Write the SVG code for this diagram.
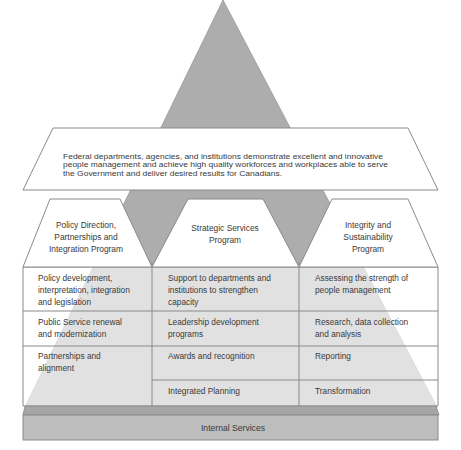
<svg xmlns="http://www.w3.org/2000/svg" width="461" height="450" viewBox="0 0 461 450">
<style>
  .t { font-family: "Liberation Sans", Arial, sans-serif; fill: #3a3a3a; }
  .b { font-size: 7.9px; }
  .h { font-size: 8.4px; text-anchor: middle; }
  .c { font-size: 8.3px; }
  .box { fill: #ffffff; stroke: #8a8a8a; stroke-width: 1; }
  .grid { stroke: #8a8a8a; stroke-width: 1; fill: none; }
</style>
<rect x="0" y="0" width="461" height="450" fill="#ffffff"/>

<g id="pyramid">
  <polygon points="223,0 25,407 437,407" fill="#adadad" stroke="#999" stroke-width="0.8"/>
</g>

<g id="table">
  <rect x="23" y="267" width="415" height="139" fill="#ffffff" fill-opacity="0.63"/>
  <path class="grid" d="M23,267 V406 M438,267 V406 M152,262 V406 M299,262 V406 M23,267 H438 M23,311 H438 M23,346 H438 M152,380 H438 M23,406 H438"/>
</g>

<g id="outcome">
  <polygon class="box" points="53,128 408,128 438,190 23,190"/>
  <text class="t b" x="63" y="158.5" textLength="320" lengthAdjust="spacingAndGlyphs">Federal departments, agencies, and institutions demonstrate excellent and innovative</text>
  <text class="t b" x="63" y="167" textLength="325" lengthAdjust="spacingAndGlyphs">people management and achieve high quality workforces and workplaces able to serve</text>
  <text class="t b" x="63" y="175.5" textLength="219" lengthAdjust="spacingAndGlyphs">the Government and deliver desired results for Canadians.</text>
</g>

<g id="program-policy">
  <polygon class="box" points="50,199 120,199 152,267 23,267"/>
  <text class="t h" x="86" y="228">Policy Direction,</text>
  <text class="t h" x="86" y="240">Partnerships and</text>
  <text class="t h" x="86" y="252">Integration Program</text>
</g>

<g id="program-strategic">
  <polygon class="box" points="188,199 263,199 299,267 152,267"/>
  <text class="t h" x="225" y="231">Strategic Services</text>
  <text class="t h" x="225" y="242.5">Program</text>
</g>

<g id="program-integrity">
  <polygon class="box" points="332,199 408,199 438,267 299,267"/>
  <text class="t h" x="368" y="228">Integrity and</text>
  <text class="t h" x="368" y="240">Sustainability</text>
  <text class="t h" x="368" y="252">Program</text>
</g>

<g id="cells-policy">
  <text class="t c" x="38" y="281">Policy development,</text>
  <text class="t c" x="38" y="293">interpretation, integration</text>
  <text class="t c" x="38" y="305">and legislation</text>
  <text class="t c" x="38" y="324.5">Public Service renewal</text>
  <text class="t c" x="38" y="336.5">and modernization</text>
  <text class="t c" x="38" y="359">Partnerships and</text>
  <text class="t c" x="38" y="371">alignment</text>
</g>

<g id="cells-strategic">
  <text class="t c" x="168" y="281">Support to departments and</text>
  <text class="t c" x="168" y="293">institutions to strengthen</text>
  <text class="t c" x="168" y="305">capacity</text>
  <text class="t c" x="168" y="324.5">Leadership development</text>
  <text class="t c" x="168" y="336.5">programs</text>
  <text class="t c" x="168" y="359">Awards and recognition</text>
  <text class="t c" x="168" y="393.5">Integrated Planning</text>
</g>

<g id="cells-integrity">
  <text class="t c" x="315" y="281">Assessing the strength of</text>
  <text class="t c" x="315" y="293">people management</text>
  <text class="t c" x="315" y="324.5">Research, data collection</text>
  <text class="t c" x="315" y="336.5">and analysis</text>
  <text class="t c" x="315" y="359">Reporting</text>
  <text class="t c" x="315" y="393.5">Transformation</text>
</g>

<g id="internal-services">
  <polygon points="25,406 436,406 439,415 23,415" fill="#a6a6a6" stroke="#8a8a8a" stroke-width="0.8"/>
  <rect x="23" y="415" width="415" height="25" fill="#bdbdbd" stroke="#8a8a8a" stroke-width="1"/>
  <text class="t h" x="233" y="430.5" style="font-size:8.6px">Internal Services</text>
</g>
</svg>
